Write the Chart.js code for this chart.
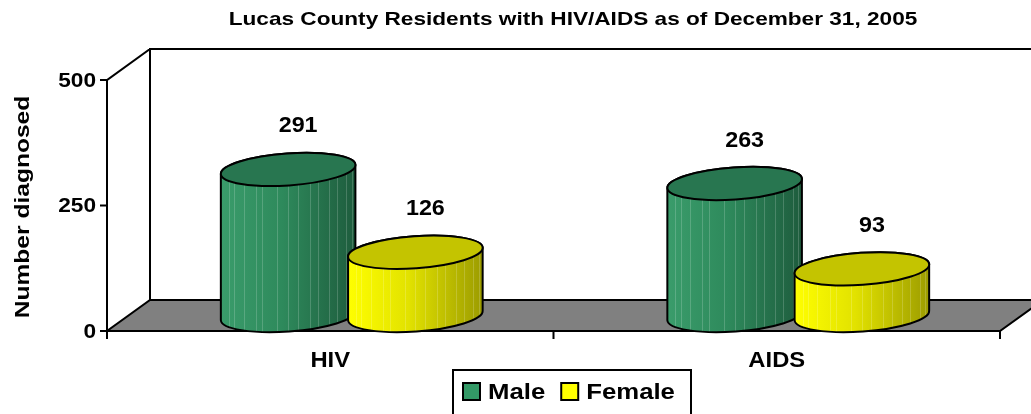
<!DOCTYPE html>
<html>
<head>
<meta charset="utf-8">
<script src="https://cdn.jsdelivr.net/npm/chart.js@4"></script>
<style>
  body { margin: 0; background: #fff; }
  #wrap { width: 1031px; height: 414px; }
</style>
</head>
<body>
<div id="wrap"><canvas id="hivChart" width="1031" height="414"></canvas></div>
<script>
// data
const categories = ['HIV', 'AIDS'];
const male = [291, 263];
const female = [126, 93];
const yTicks = [0, 250, 500];
const titleText = 'Lucas County Residents with HIV/AIDS as of December 31, 2005';
const yTitle = 'Number diagnosed';

const COLORS = {
	male: { left: '#3a9c6b', mid: '#2e8a5c', right: '#1e5c3d', top: '#287650', key: '#339966' },
	female: { left: '#ffff00', mid: '#e2e200', right: '#9c9c00', top: '#c4c400', key: '#ffff00' },
	floor: '#808080'
};

const font = (s) => `bold ${s}px "Liberation Sans", Arial, sans-serif`;

// depth of the 3d box
const DX = 43;
const DY = -31;
const RY = 16;
const ROT = -0.07;

// text drawn a little wider than the font's natural width
function wideText(ctx, text, x, y, size, sx, align) {
	ctx.save();
	ctx.font = font(size);
	ctx.textAlign = align || 'center';
	ctx.textBaseline = 'middle';
	ctx.translate(x, y);
	ctx.scale(sx, 1);
	ctx.fillText(text, 0, 0);
	ctx.restore();
	ctx.font = font(size);
	return ctx.measureText(text).width * sx;
}

function cylinder(ctx, cx, ty, by, rx, col) {
	ctx.save();
	const grad = ctx.createLinearGradient(cx - rx, 0, cx + rx, 0);
	grad.addColorStop(0, col.left);
	grad.addColorStop(0.45, col.mid);
	grad.addColorStop(1, col.right);

	ctx.beginPath();
	ctx.ellipse(cx, by, rx, RY, ROT, Math.PI, 0, true);
	ctx.ellipse(cx, ty, rx, RY, ROT, 0, Math.PI, true);
	ctx.closePath();
	ctx.fillStyle = grad;
	ctx.fill();

	// faint vertical streaks on the side
	ctx.save();
	ctx.clip();
	ctx.strokeStyle = 'rgba(255,255,255,0.18)';
	ctx.lineWidth = 1;
	[0.06, 0.1, 0.17, 0.26, 0.31, 0.42, 0.5, 0.57, 0.66, 0.72, 0.8, 0.86, 0.93, 0.97].forEach(f => {
		const x = Math.round(cx - rx + f * 2 * rx) + 0.5;
		ctx.beginPath();
		ctx.moveTo(x, ty - RY - 6);
		ctx.lineTo(x, by + RY + 6);
		ctx.stroke();
	});
	ctx.restore();

	ctx.beginPath();
	ctx.ellipse(cx, by, rx, RY, ROT, Math.PI, 0, true);
	ctx.ellipse(cx, ty, rx, RY, ROT, 0, Math.PI, true);
	ctx.closePath();
	ctx.lineWidth = 2;
	ctx.strokeStyle = '#000';
	ctx.stroke();

	ctx.beginPath();
	ctx.ellipse(cx, ty, rx, RY, ROT, 0, Math.PI * 2);
	ctx.fillStyle = col.top;
	ctx.fill();
	ctx.stroke();
	ctx.restore();
}

const box3d = {
	id: 'box3d',
	afterDatasetsDraw(chart) {
		const { ctx, chartArea: a, scales: { x, y } } = chart;
		ctx.save();
		ctx.lineWidth = 2;
		ctx.strokeStyle = '#000';
		ctx.lineCap = 'square';

		// back wall
		ctx.beginPath();
		ctx.moveTo(a.left, a.top);
		ctx.lineTo(a.left + DX, a.top + DY);
		ctx.lineTo(a.right + DX, a.top + DY);
		ctx.moveTo(a.left + DX, a.top + DY);
		ctx.lineTo(a.left + DX, a.bottom + DY);
		ctx.stroke();

		// floor
		ctx.beginPath();
		ctx.moveTo(a.left, a.bottom);
		ctx.lineTo(a.right, a.bottom);
		ctx.lineTo(a.right + DX, a.bottom + DY);
		ctx.lineTo(a.left + DX, a.bottom + DY);
		ctx.closePath();
		ctx.fillStyle = COLORS.floor;
		ctx.fill();
		ctx.stroke();

		// front value axis
		ctx.beginPath();
		ctx.moveTo(a.left, y.getPixelForValue(yTicks[yTicks.length - 1]));
		ctx.lineTo(a.left, a.bottom);
		yTicks.forEach(v => {
			const py = y.getPixelForValue(v);
			ctx.moveTo(a.left - 6, py);
			ctx.lineTo(a.left, py);
		});
		// category separators
		[a.left, (a.left + a.right) / 2, a.right].forEach(px => {
			ctx.moveTo(px, a.bottom);
			ctx.lineTo(px, a.bottom + 7);
		});
		ctx.stroke();

		ctx.fillStyle = '#000';
		yTicks.forEach(v => wideText(ctx, String(v), a.left - 11, y.getPixelForValue(v) + 1, 21, 1.08, 'right'));
		categories.forEach((c, i) => wideText(ctx, c, x.getPixelForValue(i), a.bottom + 30, 22, 1.08));

		// cylinders, male behind female
		const metas = [chart.getDatasetMeta(0), chart.getDatasetMeta(1)];
		const cols = [COLORS.male, COLORS.female];
		categories.forEach((c, i) => {
			metas.forEach((m, d) => {
				const bar = m.data[i];
				cylinder(ctx, bar.x + DX / 2, bar.y + DY / 2, bar.base + DY / 2, bar.width / 2, cols[d]);
			});
		});

		// value labels
		ctx.fillStyle = '#000';
		metas.forEach((m, d) => {
			m.data.forEach((bar, i) => {
				const v = chart.data.datasets[d].data[i];
				wideText(ctx, String(v), bar.x + DX / 2 + 10, bar.y + DY / 2 - 43, 22, 1.06);
			});
		});

		// axis title
		ctx.save();
		ctx.translate(23, 207);
		ctx.rotate(-Math.PI / 2);
		wideText(ctx, yTitle, 0, 0, 21, 1.17);
		ctx.restore();

		// chart title
		wideText(ctx, titleText, 573, 20, 19, 1.19);

		// legend
		const lx = 453, ly = 370;
		ctx.strokeRect(lx, ly, 238, 60);
		let kx = lx + 10;
		chart.data.datasets.forEach((ds, d) => {
			ctx.fillStyle = cols[d].key;
			ctx.fillRect(kx, ly + 13, 17, 17);
			ctx.strokeRect(kx, ly + 13, 17, 17);
			ctx.fillStyle = '#000';
			const w = wideText(ctx, ds.label, kx + 25, ly + 23, 22, 1.17, 'left');
			kx += 25 + w + 16;
		});
		ctx.restore();
	}
};

new Chart(document.getElementById('hivChart'), {
	type: 'bar',
	data: {
		labels: categories,
		datasets: [
			{ label: 'Male', data: male, backgroundColor: 'rgba(0,0,0,0)', categoryPercentage: 0.57, barPercentage: 1.06 },
			{ label: 'Female', data: female, backgroundColor: 'rgba(0,0,0,0)', categoryPercentage: 0.57, barPercentage: 1.06 }
		]
	},
	options: {
		responsive: false,
		animation: false,
		layout: { padding: { left: 107, right: 31, top: 80, bottom: 83 } },
		plugins: { legend: { display: false }, title: { display: false }, tooltip: { enabled: false } },
		scales: {
			x: { display: false },
			y: { display: false, min: 0, max: 500, ticks: { stepSize: 250 } }
		}
	},
	plugins: [box3d]
});
</script>
</body>
</html>
